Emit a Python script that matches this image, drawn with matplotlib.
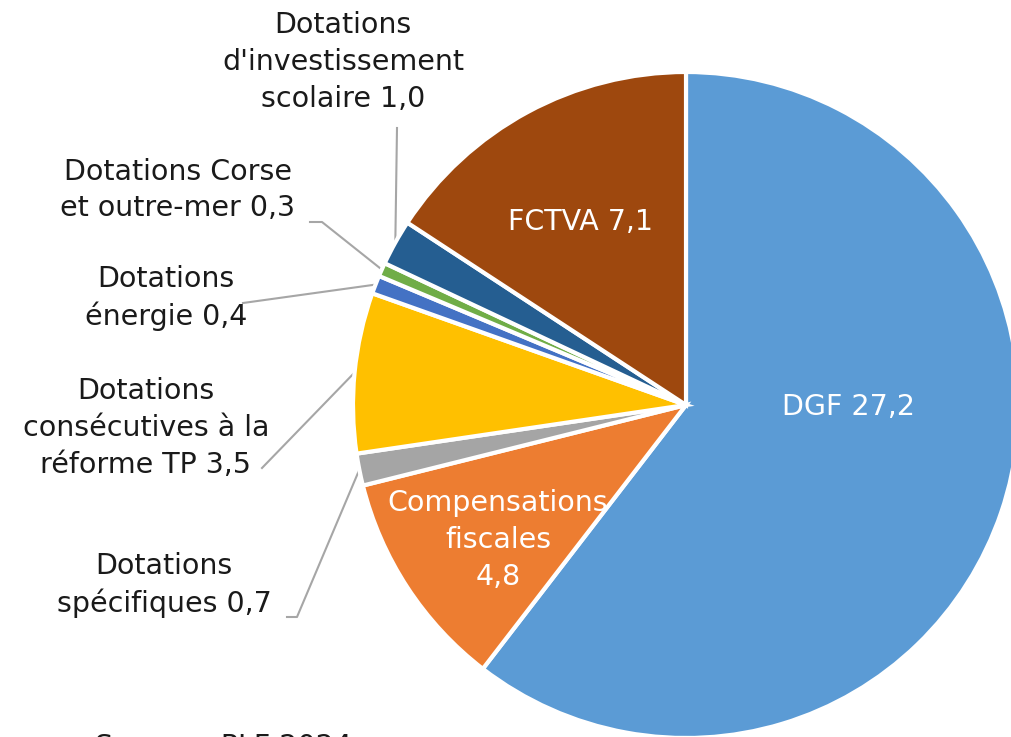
import matplotlib.pyplot as plt
import numpy as np

categories = ['DGF', 'Compensations fiscales', 'Dotations spécifiques',
              'Dotations consécutives à la réforme TP', 'Dotations énergie',
              'Dotations Corse et outre-mer', "Dotations d'investissement scolaire",
              'FCTVA']
values = [27.2, 4.8, 0.7, 3.5, 0.4, 0.3, 1.0, 7.1]
value_labels = ['27,2', '4,8', '0,7', '3,5', '0,4', '0,3', '1,0', '7,1']
colors = ['#5B9BD5', '#ED7D31', '#A5A5A5', '#FFC000', '#4472C4',
          '#70AD47', '#255E91', '#9E480E']

plt.rcParams['font.family'] = ['DejaVu Sans']
W, H = 1011, 737
fig = plt.figure(figsize=(W / 100, H / 100), dpi=100)
ax = fig.add_axes([0, 0, 1, 1])

cx, cy, r = 686, H - 405, 333
wedges, _ = ax.pie(values, colors=colors, startangle=90, counterclock=False,
                   center=(cx, cy), radius=r, frame=True,
                   wedgeprops=dict(edgecolor='white', linewidth=3))
ax.set_xlim(0, W)
ax.set_ylim(0, H)
ax.set_aspect('equal')
ax.axis('off')

fs = 20.5
ls = 1.4
# labels inside slices
ax.text(848, H - 407, 'DGF ' + value_labels[0], color='white', fontsize=fs,
        ha='center', va='center')
ax.text(581, H - 222, 'FCTVA ' + value_labels[7], color='white', fontsize=fs,
        ha='center', va='center')
ax.text(498, H - 540, 'Compensations\nfiscales\n' + value_labels[1], color='white',
        fontsize=fs, ha='center', va='center', linespacing=ls)

# outside labels with leader lines
outside = {
    6: ("Dotations\nd'investissement\nscolaire " + value_labels[6], (343, 62),
        [(397, 128)]),
    5: ('Dotations Corse\net outre-mer ' + value_labels[5], (178, 190),
        [(310, 222), (322, 222)]),
    4: ('Dotations\nénergie ' + value_labels[4], (166, 298), [(243, 303)]),
    3: ('Dotations\nconsécutives à la\nréforme TP ' + value_labels[3], (146, 428),
        [(262, 468)]),
    2: ('Dotations\nspécifiques ' + value_labels[2], (164, 585),
        [(287, 617), (297, 617)]),
}
for i, (txt, (tx, ty), pts) in outside.items():
    w = wedges[i]
    mid = np.deg2rad((w.theta1 + w.theta2) / 2)
    end = (cx + r * np.cos(mid), cy + r * np.sin(mid))
    xs = [p[0] for p in pts] + [end[0]]
    ys = [H - p[1] for p in pts] + [end[1]]
    ax.plot(xs, ys, color='#A6A6A6', lw=1.5, zorder=0.5)
    ax.text(tx, H - ty, txt, fontsize=fs, ha='center', va='center',
            color='#1a1a1a', linespacing=ls)

# source line, cut off at the bottom edge as in the original
ax.text(95, H - 733, 'Source : PLF 2024', fontsize=fs, ha='left', va='top',
        color='#1a1a1a')

fig.savefig('out.png', dpi=100)
